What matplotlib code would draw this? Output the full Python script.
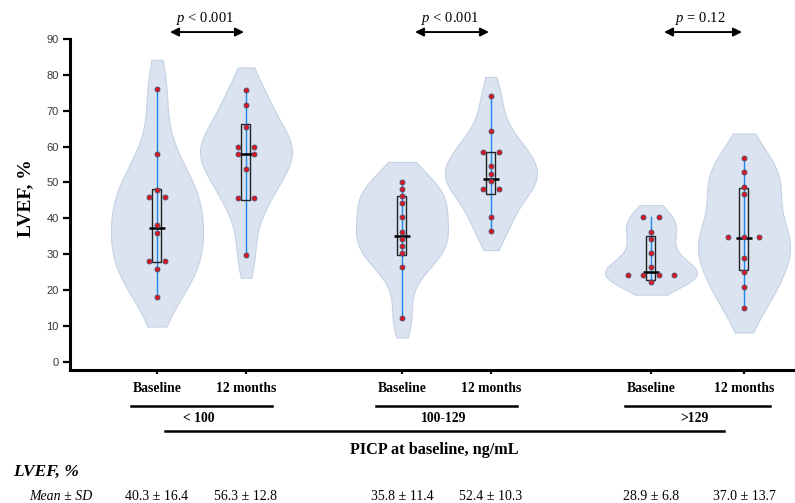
import numpy as np
import matplotlib
matplotlib.use('Agg')
import matplotlib.pyplot as plt
import matplotlib.transforms as mtransforms
from matplotlib.lines import Line2D

plt.rcParams['mathtext.fontset'] = 'custom'
plt.rcParams['mathtext.rm'] = 'Liberation Serif'
plt.rcParams['mathtext.it'] = 'Liberation Serif:italic'

W, H = 795, 503

groups = ['< 100', '100-129', '>129']
timepoints = ['Baseline', '12 months']

# LVEF per patient
lt100_base = [76, 58, 48, 46, 46, 38, 36, 28, 28, 26, 18]
lt100_12m = [75.7, 71.5, 65.6, 59.8, 59.8, 57.8, 57.8, 53.7, 45.7, 45.7, 29.8]
mid_base = [50.2, 48.2, 46.2, 44.2, 40.3, 36.2, 34.3, 32.2, 30.2, 26.3, 12.3]
mid_12m = [74.2, 64.3, 58.4, 58.4, 54.5, 52.3, 50.5, 48.3, 48.3, 40.4, 36.4]
gt129_base = [40.3, 40.3, 36.2, 34.1, 30.2, 26.3, 24.3, 24.3, 24.3, 24.3, 22.1]
gt129_12m = [56.9, 52.8, 48.8, 46.9, 34.9, 34.9, 34.9, 29.0, 24.9, 20.9, 14.9]
series = [lt100_base, lt100_12m, mid_base, mid_12m, gt129_base, gt129_12m]

# boxes as drawn (q1, median, q3)
box_q1 = [27.7, 45.1, 29.7, 46.9, 22.9, 25.5]
box_med = [37.2, 58.0, 35.0, 51.1, 25.0, 34.6]
box_q3 = [48.1, 66.2, 46.2, 58.4, 35.2, 48.5]

mean_sd = ['40.3 ± 16.4', '56.3 ± 12.8', '35.8 ± 11.4', '52.4 ± 10.3',
           '28.9 ± 6.8', '37.0 ± 13.7']
p_values = [r'$p$ < 0.001', r'$p$ < 0.001', r'$p$ = 0.12']

# x positions (axis units ~ pixels)
pos = [157, 246, 402, 491, 651, 744]

violin_fc = '#dae3ef'
violin_ec = '#c5d2e4'
serif = 'Liberation Serif'


def kde_outline(vals, factor=0.55, cut=0.9):
    v = np.asarray(vals, dtype=float)
    bw = factor * v.std(ddof=1)
    y = np.linspace(v.min() - cut * bw, v.max() + cut * bw, 300)
    d = np.exp(-0.5 * ((y[:, None] - v[None, :]) / bw) ** 2).sum(axis=1)
    return y, d / d.max()


fig = plt.figure(figsize=(W / 100, H / 100), dpi=100)
ax = fig.add_axes([70 / W, 1 - 370 / H, (W - 70) / W, 331 / H])
ax.set_xlim(70, 795)
ax.set_ylim(-2.3, 90)

for x, vals, q1, med, q3 in zip(pos, series, box_q1, box_med, box_q3):
    y, d = kde_outline(vals)
    ax.fill_betweenx(y, x - 46 * d, x + 46 * d, facecolor=violin_fc,
                     edgecolor=violin_ec, lw=0.8, zorder=1)
    ax.plot([x, x], [min(vals), max(vals)], color='#1e88f0', lw=1.0, zorder=2)
    ax.add_patch(plt.Rectangle((x - 4.5, q1), 9, q3 - q1, fill=False,
                               edgecolor='#222222', lw=1.0, zorder=3))
    ax.plot([x - 8, x + 8], [med, med], color='black', lw=1.8, zorder=4,
            solid_capstyle='butt')
    # spread tied values side by side
    vals = np.asarray(vals)
    xs, ys = [], []
    for u in np.unique(vals):
        k = int((vals == u).sum())
        offs = (np.arange(k) - (k - 1) / 2) * 15.5
        xs.extend(x + offs)
        ys.extend([u] * k)
    ax.scatter(xs, ys, s=13, facecolor='#e0141e', edgecolor='#4a5270',
               linewidth=0.6, zorder=5)

for s in ['top', 'right']:
    ax.spines[s].set_visible(False)
ax.spines['left'].set_linewidth(2.2)
ax.spines['bottom'].set_linewidth(2.2)
ax.set_yticks(range(0, 91, 10))
ax.tick_params(axis='y', length=5, width=1.6, labelsize=8,
               labelcolor='#3a3a3a', pad=3)
for lab in ax.get_yticklabels():
    lab.set_fontfamily('Liberation Sans')
ax.set_xticks(pos)
ax.set_xticklabels(timepoints * 3, fontfamily=serif, fontweight='bold', fontsize=9.8)
ax.tick_params(axis='x', length=3, width=1.5, pad=6)
ax.set_ylabel('LVEF, %', fontfamily=serif, fontweight='bold', fontsize=14)
ax.yaxis.set_label_coords(-36 / 725, (370 - 198) / 331)

# p-value arrows
ta = mtransforms.blended_transform_factory(ax.transData, ax.transAxes)
for i, p in enumerate(p_values):
    xb, xm = pos[2 * i], pos[2 * i + 1]
    ax.annotate('', xy=(xm - 2, 1.021), xytext=(xb + 13, 1.021), xycoords=ta,
                textcoords=ta, annotation_clip=False,
                arrowprops=dict(arrowstyle='<|-|>,head_length=0.5,head_width=0.25',
                                color='black', lw=1.4, shrinkA=0, shrinkB=0))
    ax.text((xb + xm) / 2 + 3, 1.063, p, transform=ta, ha='center', va='center',
            fontfamily=serif, fontsize=10.5, clip_on=False)

# grouping lines below the axis
tf = mtransforms.blended_transform_factory(ax.transData, fig.transFigure)
for i, g in enumerate(groups):
    xb, xm = pos[2 * i], pos[2 * i + 1]
    fig.add_artist(Line2D([xb - 26, xm + 26], [1 - 406 / H] * 2, transform=tf,
                          color='black', lw=1.8))
    fig.text((xb + xm) / 2 - 3, 1 - 419 / H, g, transform=tf, ha='center',
             va='center', fontfamily=serif, fontweight='bold', fontsize=9.8)
fig.add_artist(Line2D([165, 724], [1 - 431 / H] * 2, transform=tf,
                      color='black', lw=1.8))
fig.text(434, 1 - 450 / H, 'PICP at baseline, ng/mL', transform=tf, ha='center',
         va='center', fontfamily=serif, fontweight='bold', fontsize=11.7)

# summary table
fig.text(13 / W, 1 - 472 / H, 'LVEF, %', ha='left', va='center', fontfamily=serif,
         fontweight='bold', fontstyle='italic', fontsize=12.5)
fig.text(29 / W, 1 - 496 / H, 'Mean ± SD', ha='left', va='center',
         fontfamily=serif, fontstyle='italic', fontsize=10)
for x, t in zip(pos, mean_sd):
    fig.text(x, 1 - 496 / H, t, transform=tf, ha='center', va='center',
             fontfamily=serif, fontsize=10)

fig.savefig('out.png', dpi=100)
